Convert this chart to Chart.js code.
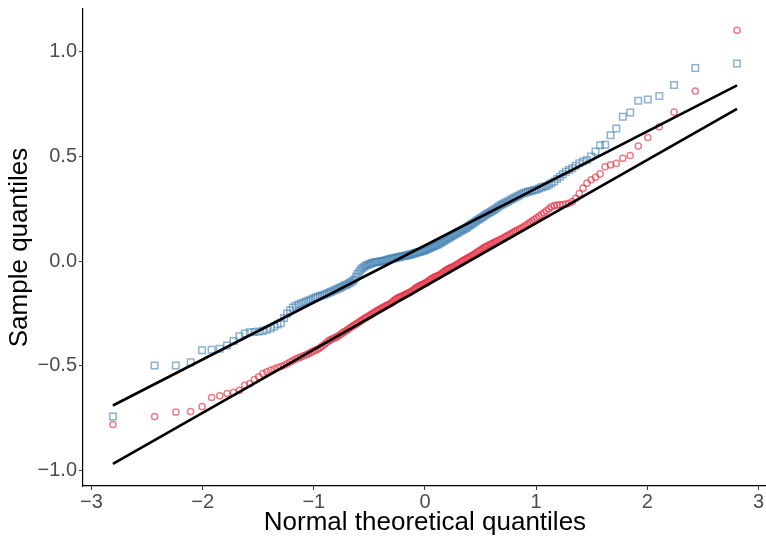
<!DOCTYPE html>
<html><head><meta charset="utf-8">
<script src="https://cdn.jsdelivr.net/npm/chart.js@4.4.0/dist/chart.umd.min.js"></script>
<style>html,body{margin:0;padding:0;background:#fff;overflow:hidden}#wrap{width:766px;height:541px;position:relative;overflow:hidden}canvas{display:block}</style>
</head><body><div id="wrap"><canvas id="c" width="773" height="541"></canvas></div>
<script>
// Normal theoretical quantiles (n = 200)
const theoreticalQuantiles = [
-2.807,-2.432,-2.241,-2.108,-2.005,-1.919,-1.846,-1.780,-1.722,-1.669,
-1.621,-1.576,-1.534,-1.495,-1.457,-1.422,-1.388,-1.356,-1.326,-1.296,
-1.267,-1.240,-1.213,-1.188,-1.163,-1.138,-1.115,-1.092,-1.069,-1.047,
-1.026,-1.005,-0.984,-0.964,-0.944,-0.925,-0.906,-0.887,-0.868,-0.850,
-0.833,-0.815,-0.798,-0.781,-0.764,-0.747,-0.731,-0.714,-0.698,-0.682,
-0.667,-0.651,-0.636,-0.620,-0.605,-0.590,-0.576,-0.561,-0.546,-0.532,
-0.518,-0.503,-0.489,-0.475,-0.461,-0.447,-0.433,-0.420,-0.406,-0.392,
-0.379,-0.366,-0.352,-0.339,-0.326,-0.312,-0.299,-0.286,-0.273,-0.260,
-0.247,-0.234,-0.222,-0.209,-0.196,-0.183,-0.171,-0.158,-0.145,-0.133,
-0.120,-0.107,-0.094,-0.082,-0.069,-0.056,-0.044,-0.031,-0.019,-0.006,
0.006,0.019,0.031,0.044,0.056,0.069,0.082,0.094,0.107,0.120,
0.133,0.145,0.158,0.171,0.183,0.196,0.209,0.222,0.234,0.247,
0.260,0.273,0.286,0.299,0.312,0.326,0.339,0.352,0.366,0.379,
0.392,0.406,0.420,0.433,0.447,0.461,0.475,0.489,0.503,0.518,
0.532,0.546,0.561,0.576,0.590,0.605,0.620,0.636,0.651,0.667,
0.682,0.698,0.714,0.731,0.747,0.764,0.781,0.798,0.815,0.833,
0.850,0.868,0.887,0.906,0.925,0.944,0.964,0.984,1.005,1.026,
1.047,1.069,1.092,1.115,1.138,1.163,1.188,1.213,1.240,1.267,
1.296,1.326,1.356,1.388,1.422,1.457,1.495,1.534,1.576,1.621,
1.669,1.722,1.780,1.846,1.919,2.005,2.108,2.241,2.432,2.807];

// Sorted sample values, blue series (squares)
const blueSample = [
-0.742,-0.498,-0.498,-0.483,-0.426,-0.423,-0.418,-0.403,-0.381,-0.359,
-0.346,-0.340,-0.338,-0.336,-0.333,-0.328,-0.320,-0.312,-0.303,-0.296,
-0.272,-0.250,-0.235,-0.222,-0.213,-0.207,-0.202,-0.198,-0.193,-0.188,
-0.183,-0.178,-0.174,-0.170,-0.166,-0.163,-0.160,-0.156,-0.152,-0.148,
-0.144,-0.139,-0.135,-0.131,-0.127,-0.123,-0.118,-0.114,-0.110,-0.106,
-0.101,-0.095,-0.088,-0.075,-0.060,-0.050,-0.040,-0.033,-0.027,-0.022,
-0.018,-0.015,-0.012,-0.009,-0.007,-0.005,-0.004,-0.003,-0.002,-0.001,
0.000,0.002,0.004,0.006,0.008,0.010,0.012,0.013,0.014,0.016,
0.018,0.019,0.021,0.022,0.024,0.025,0.027,0.028,0.029,0.031,
0.033,0.035,0.037,0.039,0.041,0.043,0.045,0.047,0.049,0.051,
0.054,0.057,0.060,0.063,0.066,0.069,0.072,0.075,0.078,0.081,
0.085,0.089,0.093,0.097,0.101,0.105,0.109,0.113,0.117,0.121,
0.125,0.129,0.133,0.137,0.141,0.145,0.149,0.153,0.157,0.161,
0.166,0.171,0.176,0.181,0.186,0.191,0.196,0.201,0.206,0.211,
0.216,0.221,0.226,0.231,0.235,0.240,0.244,0.250,0.256,0.262,
0.268,0.272,0.276,0.281,0.285,0.290,0.295,0.300,0.305,0.310,
0.315,0.320,0.324,0.328,0.331,0.333,0.336,0.339,0.342,0.347,
0.352,0.355,0.359,0.365,0.372,0.380,0.392,0.403,0.415,0.427,
0.435,0.443,0.455,0.467,0.475,0.483,0.499,0.523,0.553,0.555,
0.601,0.633,0.689,0.710,0.766,0.772,0.788,0.841,0.922,0.943];

// Sorted sample values, red series (circles)
const redSample = [
-0.780,-0.742,-0.721,-0.718,-0.695,-0.651,-0.643,-0.632,-0.627,-0.617,
-0.593,-0.585,-0.566,-0.553,-0.537,-0.528,-0.522,-0.515,-0.508,-0.503,
-0.497,-0.490,-0.482,-0.475,-0.468,-0.462,-0.457,-0.452,-0.447,-0.442,
-0.436,-0.430,-0.425,-0.420,-0.414,-0.406,-0.398,-0.390,-0.381,-0.376,
-0.371,-0.367,-0.363,-0.358,-0.352,-0.345,-0.339,-0.334,-0.328,-0.322,
-0.316,-0.311,-0.306,-0.301,-0.296,-0.290,-0.285,-0.280,-0.274,-0.270,
-0.266,-0.261,-0.257,-0.252,-0.247,-0.242,-0.238,-0.234,-0.230,-0.226,
-0.222,-0.218,-0.214,-0.210,-0.207,-0.203,-0.198,-0.192,-0.186,-0.181,
-0.177,-0.174,-0.171,-0.168,-0.165,-0.161,-0.158,-0.155,-0.152,-0.148,
-0.144,-0.139,-0.134,-0.129,-0.124,-0.120,-0.117,-0.114,-0.111,-0.108,
-0.104,-0.100,-0.095,-0.090,-0.086,-0.082,-0.078,-0.075,-0.072,-0.069,
-0.065,-0.061,-0.056,-0.051,-0.046,-0.042,-0.038,-0.034,-0.031,-0.028,
-0.025,-0.021,-0.017,-0.013,-0.008,-0.003,0.001,0.005,0.009,0.013,
0.017,0.021,0.025,0.029,0.034,0.039,0.044,0.049,0.054,0.059,
0.064,0.068,0.072,0.076,0.080,0.084,0.088,0.092,0.096,0.100,
0.104,0.108,0.113,0.118,0.123,0.128,0.133,0.138,0.143,0.148,
0.153,0.158,0.164,0.170,0.177,0.184,0.191,0.198,0.206,0.214,
0.222,0.231,0.240,0.250,0.259,0.265,0.267,0.269,0.270,0.272,
0.276,0.284,0.300,0.322,0.348,0.372,0.388,0.400,0.416,0.450,
0.459,0.467,0.491,0.504,0.549,0.590,0.641,0.711,0.812,1.102];

// Reference lines (end values at the first and last theoretical quantile)
const blueLineY = [-0.689, 0.839];
const redLineY = [-0.968, 0.727];

const xTicks = [-3, -2, -1, 0, 1, 2, 3];
const yTicks = [-1.0, -0.5, 0.0, 0.5, 1.0];
const xTitle = 'Normal theoretical quantiles';
const yTitle = 'Sample quantiles';

const qFirst = theoreticalQuantiles[0];
const qLast = theoreticalQuantiles[theoreticalQuantiles.length - 1];
const pts = (xs, ys) => xs.map((x, i) => ({x: x, y: ys[i]}));

const FONT = "'Liberation Sans', Arial, Helvetica, sans-serif";
const minus = v => String(v).replace('-', '\u2212');

new Chart(document.getElementById('c'), {
  type: 'scatter',
  data: {
    datasets: [
      {label: 'blue line', data: pts([qFirst, qLast], blueLineY), showLine: true,
       borderColor: '#000', borderWidth: 2.7, pointRadius: 0, order: 0},
      {label: 'red line', data: pts([qFirst, qLast], redLineY), showLine: true,
       borderColor: '#000', borderWidth: 2.7, pointRadius: 0, order: 1},
      {label: 'blue', data: pts(theoreticalQuantiles, blueSample), pointStyle: 'rect',
       pointRadius: 4.6, pointBorderWidth: 1.5, pointBackgroundColor: 'rgba(0,0,0,0)',
       pointBorderColor: 'rgba(70,130,180,0.62)', order: 3},
      {label: 'red', data: pts(theoreticalQuantiles, redSample), pointStyle: 'circle',
       pointRadius: 3.1, pointBorderWidth: 1.5, pointBackgroundColor: 'rgba(0,0,0,0)',
       pointBorderColor: 'rgba(226,45,65,0.62)', order: 2}
    ]
  },
  options: {
    responsive: false, animation: false, devicePixelRatio: 1,
    layout: {padding: {left: 0, right: 0, top: 9, bottom: 0}},
    plugins: {legend: {display: false}, tooltip: {enabled: false}},
    scales: {
      x: {
        type: 'linear', min: -3.076, max: 3.076,
        afterBuildTicks: s => { s.ticks = xTicks.map(v => ({value: v})); },
        afterFit: s => { s.height = 55; s.paddingLeft = 0; s.paddingRight = 0; },
        grid: {display: true, drawOnChartArea: false, drawTicks: true, tickLength: 4, color: '#333', lineWidth: 1},
        border: {display: true, color: '#000', width: 1.2},
        ticks: {padding: 0, color: '#4d4d4d', font: {family: FONT, size: 20}, callback: v => minus(v), maxRotation: 0, autoSkip: false},
        title: {display: true, text: xTitle, color: '#000', font: {family: FONT, size: 26}, padding: {top: 0, bottom: 3}}
      },
      y: {
        type: 'linear', min: -1.0735, max: 1.2035,
        afterBuildTicks: s => { s.ticks = yTicks.map(v => ({value: v})); },
        afterFit: s => { s.width = 83; s.paddingTop = 0; s.paddingBottom = 0; },
        grid: {display: true, drawOnChartArea: false, drawTicks: true, tickLength: 4, color: '#333', lineWidth: 1},
        border: {display: true, color: '#000', width: 1.2},
        ticks: {padding: 2, color: '#4d4d4d', font: {family: FONT, size: 20}, callback: v => minus(v.toFixed(1)), autoSkip: false},
        title: {display: true, text: yTitle, color: '#000', font: {family: FONT, size: 26}, padding: {top: 4, bottom: 0}}
      }
    }
  }
});
</script></body></html>
